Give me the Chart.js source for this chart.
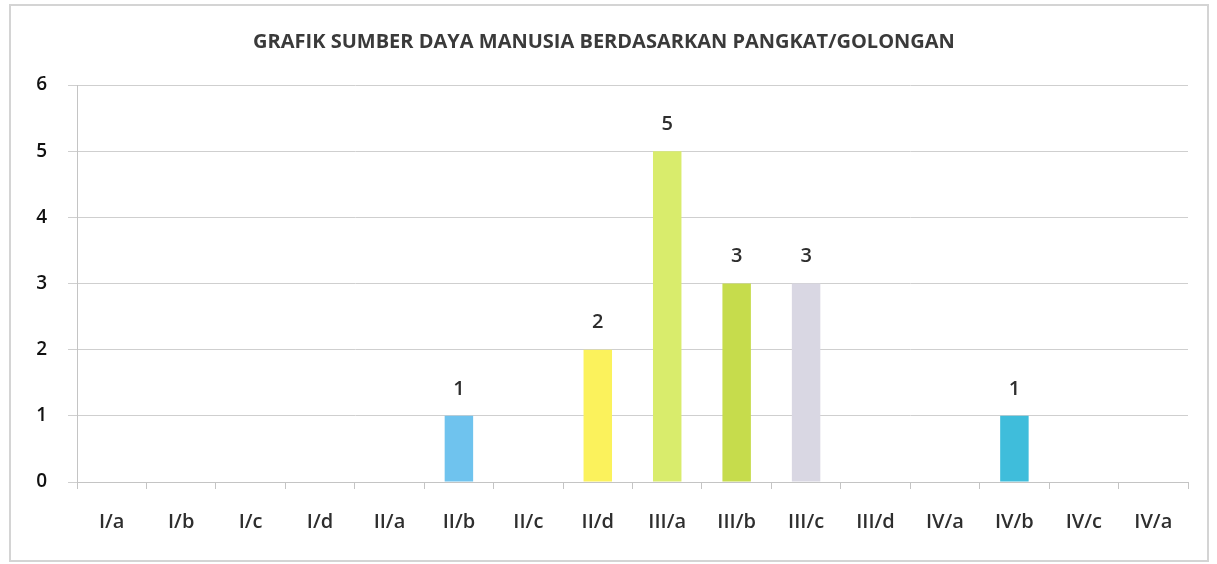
<!DOCTYPE html>
<html>
<head>
<meta charset="utf-8">
<script src="https://cdn.jsdelivr.net/npm/chart.js@4"></script>
<style>
  body { margin: 0; background: #fff; }
  #frame { position: absolute; left: 9px; top: 4px; width: 1196px; height: 554px; border: 2px solid #d4d4d4; }
  #wrap { position: absolute; left: 0; top: 0; width: 1217px; height: 564px; }
</style>
</head>
<body>
<div id="frame"></div>
<div id="wrap"><canvas id="golonganChart"></canvas></div>
<script>
var golongan = ["I/a", "I/b", "I/c", "I/d", "II/a", "II/b", "II/c", "II/d", "III/a", "III/b", "III/c", "III/d", "IV/a", "IV/b", "IV/c", "IV/a"];
var jumlah = [0, 0, 0, 0, 0, 1, 0, 2, 5, 3, 3, 0, 0, 1, 0, 0];
var warna = ["#6fc3ee", "#6fc3ee", "#6fc3ee", "#6fc3ee", "#6fc3ee", "#6fc3ee", "#6fc3ee", "#fbf25c",
             "#d9ec6c", "#c6dc4c", "#d9d7e3", "#6fc3ee", "#6fc3ee", "#3fbddb", "#6fc3ee", "#6fc3ee"];
var yTicks = [0, 1, 2, 3, 4, 5, 6];

var fontName = "'Open Sans', sans-serif";

// simple value labels above the bars
var barLabels = {
    id: "barLabels",
    afterDatasetsDraw: function(chart) {
        var ctx = chart.ctx;
        var meta = chart.getDatasetMeta(0);
        ctx.save();
        ctx.fillStyle = "#2e2e2e";
        ctx.font = "600 20px " + fontName;
        ctx.textAlign = "center";
        ctx.textBaseline = "middle";
        meta.data.forEach(function(bar, i) {
            if (jumlah[i] > 0) {
                ctx.fillText(String(jumlah[i]), bar.x, bar.y - 27);
            }
        });
        ctx.restore();
    }
};

var config = {
    type: "bar",
    data: {
        labels: golongan,
        datasets: [
            {
                label: "Jumlah",
                data: jumlah,
                backgroundColor: warna,
                borderWidth: 0,
                barPercentage: 0.41,
                categoryPercentage: 1.0,
            },
        ],
    },
    options: {
        responsive: true,
        maintainAspectRatio: false,
        animation: false,
        layout: {
            padding: { left: 20, right: 29, top: 0, bottom: 10 },
        },
        plugins: {
            legend: { display: false },
            tooltip: { enabled: false },
            title: {
                display: true,
                text: "GRAFIK SUMBER DAYA MANUSIA BERDASARKAN PANGKAT/GOLONGAN",
                color: "#3a3a3a",
                font: { family: fontName, size: 20, weight: "bold" },
                padding: { top: 30, bottom: 31 },
            },
        },
        scales: {
            x: {
                afterFit: function(scale) { scale.height = 72; },
                grid: {
                    offset: true,
                    drawOnChartArea: false,
                    drawTicks: true,
                    tickLength: 7,
                    color: "#c4c4c4",
                },
                border: { color: "#c4c4c4", width: 1 },
                ticks: {
                    color: "#2e2e2e",
                    font: { family: fontName, size: 20, weight: 600 },
                    padding: 21,
                    autoSkip: false,
                    maxRotation: 0,
                },
            },
            y: {
                min: 0,
                max: 6,
                afterFit: function(scale) { scale.width = 57; },
                afterBuildTicks: function(scale) {
                    scale.ticks = yTicks.map(function(v) { return { value: v }; });
                },
                grid: {
                    color: "#cfcfcf",
                    tickLength: 9,
                },
                border: { display: true, color: "#c4c4c4" },
                ticks: {
                    color: "#111111",
                    font: { family: fontName, size: 19, weight: 600 },
                    padding: 21,
                },
            },
        },
    },
    plugins: [barLabels],
};

var canvasElement = document.getElementById("golonganChart");
var golonganChart = new Chart(canvasElement, config);
</script>
</body>
</html>
